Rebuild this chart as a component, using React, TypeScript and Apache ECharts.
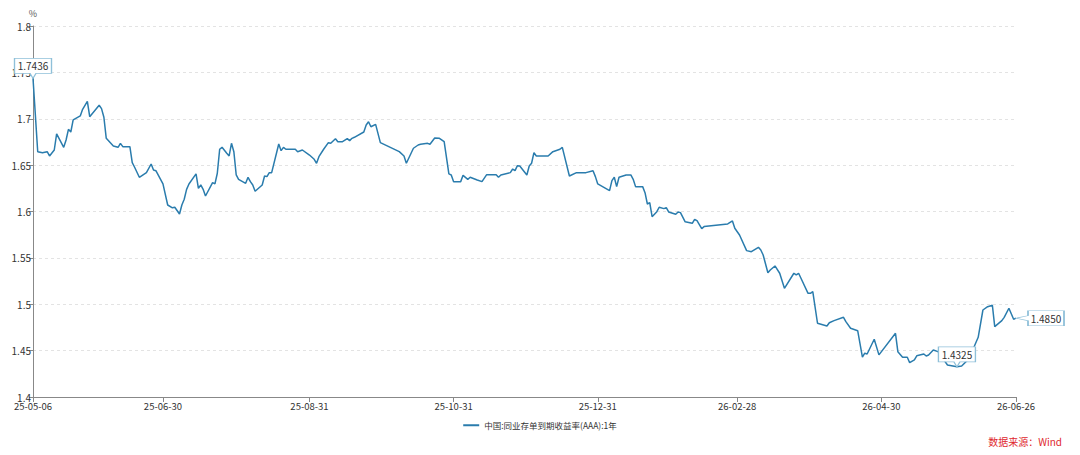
import React, { useEffect, useRef } from "react";
import * as echarts from "echarts";

const seriesName = "中国:同业存单到期收益率(AAA):1年";

const dates = [
  "2025-05-06","2025-05-08","2025-05-10","2025-05-12","2025-05-13","2025-05-15","2025-05-16","2025-05-19","2025-05-20","2025-05-21",
  "2025-05-22","2025-05-23","2025-05-26","2025-05-27","2025-05-29","2025-05-30","2025-06-03","2025-06-04","2025-06-05","2025-06-06",
  "2025-06-09","2025-06-11","2025-06-12","2025-06-13","2025-06-16","2025-06-17","2025-06-18","2025-06-20","2025-06-23","2025-06-25",
  "2025-06-26","2025-06-27","2025-06-30","2025-07-02","2025-07-04","2025-07-05","2025-07-07","2025-07-08","2025-07-09","2025-07-10",
  "2025-07-11","2025-07-14","2025-07-15","2025-07-16","2025-07-17","2025-07-18","2025-07-21","2025-07-22","2025-07-23","2025-07-24",
  "2025-07-25","2025-07-27","2025-07-28","2025-07-29","2025-07-30","2025-07-31","2025-08-01","2025-08-04","2025-08-05","2025-08-06",
  "2025-08-07","2025-08-08","2025-08-11","2025-08-12","2025-08-13","2025-08-14","2025-08-15","2025-08-18","2025-08-19","2025-08-20",
  "2025-08-21","2025-08-25","2025-08-26","2025-08-28","2025-08-31","2025-09-02","2025-09-03","2025-09-04","2025-09-06","2025-09-08",
  "2025-09-09","2025-09-11","2025-09-12","2025-09-14","2025-09-16","2025-09-17","2025-09-18","2025-09-19","2025-09-23","2025-09-24",
  "2025-09-25","2025-09-26","2025-09-28","2025-09-30","2025-10-08","2025-10-10","2025-10-11","2025-10-13","2025-10-14","2025-10-16",
  "2025-10-17","2025-10-20","2025-10-21","2025-10-23","2025-10-25","2025-10-27","2025-10-29","2025-10-30","2025-10-31","2025-11-03",
  "2025-11-04","2025-11-06","2025-11-07","2025-11-10","2025-11-12","2025-11-14","2025-11-18","2025-11-19","2025-11-20","2025-11-24",
  "2025-11-25","2025-11-26","2025-11-27","2025-11-28","2025-12-01","2025-12-02","2025-12-03","2025-12-04","2025-12-05","2025-12-10",
  "2025-12-12","2025-12-15","2025-12-16","2025-12-19","2025-12-22","2025-12-26","2025-12-29","2025-12-30","2025-12-31","2026-01-05",
  "2026-01-06","2026-01-07","2026-01-08","2026-01-09","2026-01-12","2026-01-14","2026-01-15","2026-01-16","2026-01-19","2026-01-20",
  "2026-01-21","2026-01-22","2026-01-23","2026-01-25","2026-01-26","2026-01-28","2026-01-29","2026-01-30","2026-02-02","2026-02-03",
  "2026-02-04","2026-02-06","2026-02-09","2026-02-10","2026-02-11","2026-02-13","2026-02-14","2026-02-24","2026-02-26","2026-02-27",
  "2026-03-01","2026-03-04","2026-03-06","2026-03-09","2026-03-10","2026-03-11","2026-03-13","2026-03-14","2026-03-16","2026-03-18",
  "2026-03-20","2026-03-24","2026-03-25","2026-03-26","2026-03-27","2026-03-30","2026-03-31","2026-04-01","2026-04-03","2026-04-07",
  "2026-04-08","2026-04-10","2026-04-14","2026-04-15","2026-04-17","2026-04-20","2026-04-22","2026-04-23","2026-04-24","2026-04-27",
  "2026-04-29","2026-05-06","2026-05-07","2026-05-09","2026-05-11","2026-05-12","2026-05-14","2026-05-15","2026-05-18","2026-05-19",
  "2026-05-20","2026-05-22","2026-05-24","2026-05-28","2026-06-01","2026-06-03","2026-06-07","2026-06-08","2026-06-10","2026-06-12",
  "2026-06-14","2026-06-16","2026-06-17","2026-06-20","2026-06-21","2026-06-23","2026-06-25","2026-06-26"
];

const values = [
  1.7436,1.6645,1.6634,1.6645,1.6599,1.6663,1.6836,1.6692,1.6771,1.6886,
  1.6857,1.6987,1.7030,1.7102,1.7188,1.7022,1.7145,1.7109,1.7016,1.6789,
  1.6706,1.6692,1.6735,1.6699,1.6699,1.6526,1.6477,1.6369,1.6419,1.6512,
  1.6448,1.6440,1.6297,1.6070,1.6040,1.6046,1.5973,1.6070,1.6132,1.6239,
  1.6297,1.6405,1.6250,1.6286,1.6239,1.6167,1.6311,1.6297,1.6412,1.6671,
  1.6692,1.6628,1.6599,1.6735,1.6645,1.6394,1.6347,1.6304,1.6369,1.6322,
  1.6286,1.6218,1.6286,1.6383,1.6376,1.6419,1.6419,1.6728,1.6656,1.6692,
  1.6671,1.6671,1.6645,1.6663,1.6609,1.6563,1.6520,1.6591,1.6671,1.6742,
  1.6735,1.6785,1.6753,1.6753,1.6785,1.6764,1.6789,1.6800,1.6857,1.6933,
  1.6968,1.6914,1.6940,1.6742,1.6645,1.6599,1.6520,1.6628,1.6682,1.6717,
  1.6725,1.6735,1.6725,1.6793,1.6789,1.6753,1.6405,1.6394,1.6322,1.6322,
  1.6390,1.6347,1.6369,1.6340,1.6322,1.6397,1.6397,1.6369,1.6394,1.6419,
  1.6458,1.6440,1.6494,1.6491,1.6394,1.6491,1.6520,1.6634,1.6599,1.6599,
  1.6645,1.6671,1.6692,1.6383,1.6419,1.6419,1.6440,1.6376,1.6297,1.6225,
  1.6333,1.6369,1.6268,1.6369,1.6394,1.6394,1.6347,1.6268,1.6268,1.6203,
  1.6081,1.6095,1.5944,1.5998,1.6046,1.6031,1.6042,1.5995,1.5970,1.5995,
  1.5988,1.5889,1.5873,1.5916,1.5901,1.5815,1.5837,1.5866,1.5898,1.5819,
  1.5747,1.5578,1.5567,1.5614,1.5585,1.5531,1.5340,1.5369,1.5413,1.5334,
  1.5172,1.5334,1.5316,1.5334,1.5280,1.5118,1.5118,1.5136,1.4795,1.4766,
  1.4801,1.4823,1.4859,1.4812,1.4741,1.4715,1.4429,1.4472,1.4464,1.4623,
  1.4454,1.4687,1.4489,1.4429,1.4429,1.4370,1.4400,1.4444,1.4464,1.4442,
  1.4453,1.4506,1.4489,1.4345,1.4325,1.4335,1.4435,1.4526,1.4644,1.4938,
  1.4974,1.4989,1.4758,1.4823,1.4859,1.4957,1.4838,1.4850
];

const xTickDates = [
  "2025-05-06","2025-06-30","2025-08-31","2025-10-31",
  "2025-12-31","2026-02-28","2026-04-30","2026-06-26"
];

const sourceText = "数据来源：Wind";

function ts(s: string): number {
  const [y, m, d] = s.split("-").map(Number);
  return Date.UTC(y, m - 1, d);
}

function fmtDate(v: number): string {
  const d = new Date(v);
  const p = (n: number) => (n < 10 ? "0" + n : "" + n);
  return p(d.getUTCFullYear() % 100) + "-" + p(d.getUTCMonth() + 1) + "-" + p(d.getUTCDate());
}

const FONT = "'Noto Sans CJK SC', 'Noto Sans', sans-serif";
const LINE = "#2a7cad";
const BOX_BORDER = "#8fc0d9";

const downCallout = "path://M0,0L37,0L37,15L21.5,15L18.5,20L15.5,15L0,15Z";
const leftCallout = "path://M12,0L48,0L48,15L12,15L12,10L0,7.5L12,5Z";

export default function App() {
  const ref = useRef<HTMLDivElement>(null);

  useEffect(() => {
    if (!ref.current) return;
    const chart = echarts.init(ref.current, undefined, { renderer: "svg" });
    const data = dates.map((d, i) => [ts(d), values[i]]);
    const last = data[data.length - 1];
    const tickValues = xTickDates.map(ts);

    const boxLabel = {
      show: true,
      position: "inside",
      color: "#333",
      fontSize: 10,
      fontFamily: FONT,
      formatter: (p: any) => Number(p.value).toFixed(4),
    };

    chart.setOption({
      animation: false,
      backgroundColor: "#ffffff",
      textStyle: { fontFamily: FONT },
      grid: { left: 33, right: 64, top: 26, bottom: 58, containLabel: false },
      legend: {
        top: 416,
        left: "center",
        icon: "rect",
        itemWidth: 16,
        itemHeight: 2,
        itemGap: 4,
        textStyle: { fontSize: 8.5, color: "#333", fontFamily: FONT },
        data: [seriesName],
      },
      xAxis: {
        type: "value",
        min: ts(dates[0]),
        max: ts(dates[dates.length - 1]),
        axisLine: { show: true, lineStyle: { color: "#888", width: 1 } },
        axisTick: { show: true, length: 5, customValues: tickValues, lineStyle: { color: "#888" } },
        axisLabel: {
          customValues: tickValues,
          formatter: (v: number) => fmtDate(v),
          color: "#333",
          fontSize: 9.5,
          margin: 4,
          fontFamily: FONT,
          hideOverlap: false,
          showMinLabel: true,
          showMaxLabel: true,
        },
        splitLine: { show: false },
      },
      yAxis: {
        type: "value",
        min: 1.4,
        max: 1.8,
        interval: 0.05,
        name: "%",
        nameLocation: "end",
        nameGap: 8,
        nameTextStyle: { color: "#555", fontSize: 9, fontFamily: FONT },
        axisLine: { show: true, lineStyle: { color: "#888", width: 1 } },
        axisTick: { show: true, length: 4, lineStyle: { color: "#888" } },
        axisLabel: { color: "#333", fontSize: 10, margin: 2, fontFamily: FONT },
        splitLine: { show: true, lineStyle: { color: "#e3e3e3", type: [3, 3], width: 1 } },
      },
      series: [
        {
          name: seriesName,
          type: "line",
          data,
          symbol: "none",
          showSymbol: false,
          lineStyle: { color: LINE, width: 1.5 },
          itemStyle: { color: LINE },
          markPoint: {
            z: 10,
            itemStyle: { color: "#ffffff", borderColor: BOX_BORDER, borderWidth: 1 },
            data: [
              {
                type: "max",
                valueDim: "y",
                symbol: downCallout,
                symbolSize: [37, 20],
                symbolOffset: [0, -10],
                label: { ...boxLabel, offset: [0, -2.5] },
              },
              {
                type: "min",
                valueDim: "y",
                symbol: downCallout,
                symbolSize: [37, 20],
                symbolOffset: [0, -10],
                label: { ...boxLabel, offset: [0, -2.5] },
              },
              {
                coord: last,
                value: last[1],
                symbol: leftCallout,
                symbolSize: [48, 15],
                symbolOffset: [24, 0],
                label: { ...boxLabel, offset: [6, 0] },
              },
            ],
          },
        },
      ],
      graphic: [
        {
          type: "text",
          right: 18,
          bottom: 9,
          style: {
            text: sourceText,
            fill: "#e0282e",
            fontSize: 10,
            fontFamily: FONT,
          },
        },
      ],
    });

    return () => chart.dispose();
  }, []);

  return (
    <div
      ref={ref}
      style={{ position: "fixed", left: 0, top: 0, width: 1080, height: 455, background: "#fff" }}
    />
  );
}
